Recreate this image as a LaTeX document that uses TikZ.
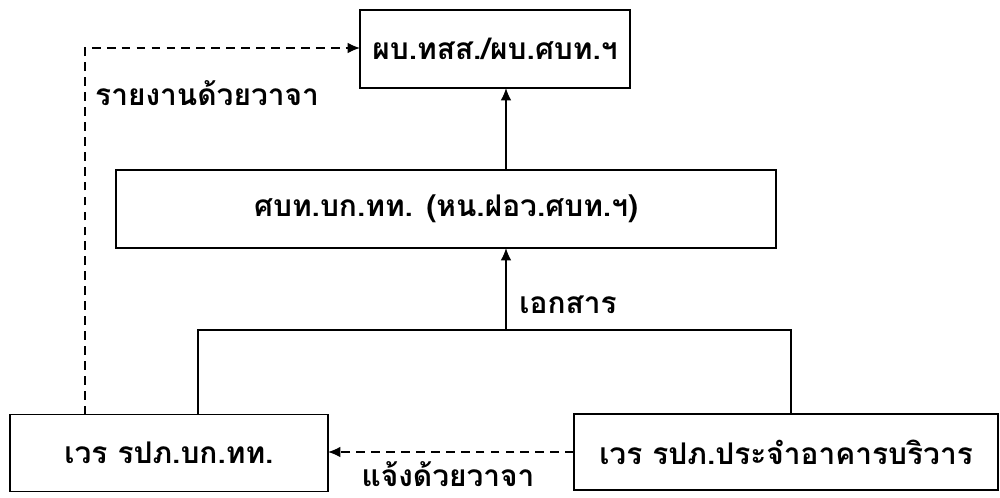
\documentclass[tikz,border=0pt]{standalone}
\usepackage{fontspec}
\newfontfamily\thaifont[Script=Thai]{Loma}
\usetikzlibrary{arrows.meta}
\tikzset{
	box/.style={draw,line width=0.8pt,inner sep=0,outer sep=0,font=\thaifont\bfseries\fontsize{17}{20}\selectfont},
	lbl/.style={inner sep=0,font=\thaifont\bfseries\fontsize{17}{20}\selectfont},
	arr/.style={line width=0.8pt,-{Latex[length=7pt,width=6pt]}},
	dsh/.style={dash pattern=on 5pt off 3.5pt}
}
\begin{document}
\begin{tikzpicture}[x=0.02cm,y=-0.02cm]
	\useasboundingbox (0,0) rectangle (1000,497);
	\node[box,minimum width=5.4cm,minimum height=1.56cm] (1) at (495,49) {ผบ.ทสส./ผบ.ศบท.ฯ};
	\node[box,minimum width=13.2cm,minimum height=1.56cm] (2) at (446,209) {ศบท.บก.ทท. (หน.ฝอว.ศบท.ฯ)};
	\node[box,minimum width=6.36cm,minimum height=1.54cm] (3) at (169,453) {เวร รปภ.บก.ทท.};
	\node[box,minimum width=8.48cm,minimum height=1.52cm] (4) at (786,452) {เวร รปภ.ประจำอาคารบริวาร};
	\coordinate (5) at (506,330);
	\coordinate (6) at (198,330);
	\coordinate (7) at (791,330);
	\coordinate (8) at (85,48);
	\node[lbl] (9) at (207,93) {รายงานด้วยวาจา};
	\node[lbl] (10) at (568,305) {เอกสาร};
	\node[lbl,anchor=base,text depth=0pt] (11) at (448,486) {แจ้งด้วยวาจา};
	\draw[line width=0.8pt] (3.north -| 6) -- (6) -- (7) -- (4.north -| 7);
	\draw[arr] (5) -- (5 |- 2.south);
	\draw[arr] (2.north -| 5) -- (5 |- 1.south);
	\draw[arr,dsh] (3.north -| 8) -- (8) -- (1.west |- 8);
	\draw[arr,dsh] (4.west) -- (4.west -| 3.east);
\end{tikzpicture}
\end{document}
